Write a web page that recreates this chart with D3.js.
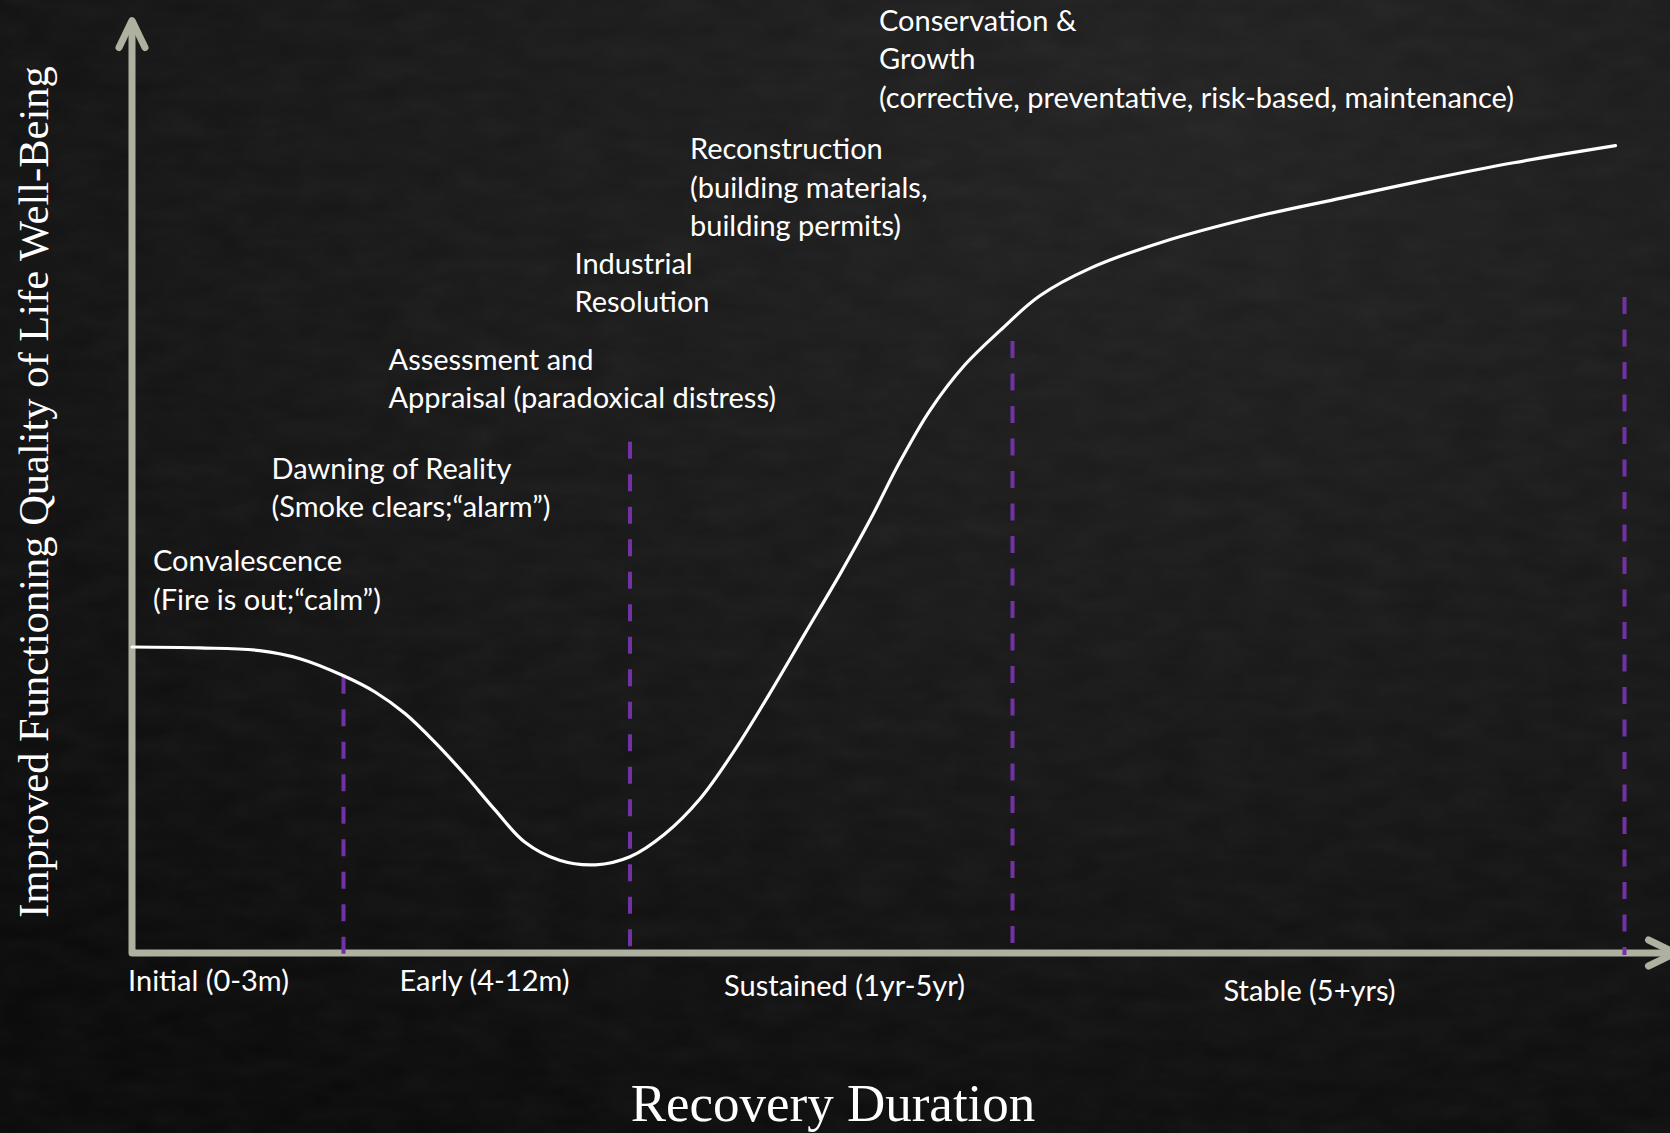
<!DOCTYPE html>
<html>
<head>
<meta charset="utf-8">
<title>Recovery Duration</title>
<script src="https://d3js.org/d3.v7.min.js"></script>
<style>
    html, body { margin: 0; padding: 0; background: #141414; overflow: hidden; }
    svg { display: block; }
    .stage text, .period { font-family: Lato, "Open Sans", sans-serif; font-size: 29px; fill: #ffffff; }
    .serif { font-family: "Liberation Serif", "DejaVu Serif", serif; fill: #ffffff; }
</style>
</head>
<body>
<div class="graph"></div>
<script>
// recovery curve (x: duration, y: well-being, both on a 0-100 scale)
const curveX = [0, 4.5, 8.5, 11.2, 14.1, 16.2, 18.2, 20.2, 22.2, 24.2, 26.2, 28.5, 30.9,
    33.2, 35.5, 37.9, 40.2, 42.5, 44.9, 47.2, 49.2, 51.2, 53.2, 55.5, 57.9, 60.5, 63.9,
    68.5, 74.9, 80.7, 86.3, 92.1, 98.9];
const curveY = [34.0, 33.9, 33.6, 32.7, 30.8, 29.0, 26.6, 23.4, 19.8, 15.9, 12.3, 10.3, 9.8,
    10.7, 13.2, 17.2, 22.6, 28.8, 35.6, 42.1, 48.1, 54.6, 60.3, 65.3, 69.2, 73.0, 76.1,
    78.9, 81.8, 83.9, 85.9, 87.8, 89.7];

// phase boundaries (dashed lines) and the level each one reaches
const boundaryX = [14.1, 33.2, 58.7, 99.5];
const boundaryTop = [30.7, 56.8, 68.0, 72.9];

// recovery periods along the bottom
const periodNames = ['Initial (0-3m)', 'Early (4-12m)', 'Sustained (1yr-5yr)', 'Stable (5+yrs)'];
const periodCentres = [5.1, 23.5, 47.5, 78.5];

// stage annotations, anchored in chart units
const stageLines = [
    ['Convalescence', '(Fire is out;\u201ccalm\u201d)'],
    ['Dawning of Reality', '(Smoke clears;\u201calarm\u201d)'],
    ['Assessment and', 'Appraisal (paradoxical distress)'],
    ['Industrial', 'Resolution'],
    ['Reconstruction', '(building materials,', 'building permits)'],
    ['Conservation &', 'Growth', '(corrective, preventative, risk-based, maintenance)']
];
const stageX = [1.4, 9.3, 17.1, 29.5, 37.2, 49.8];
const stageY = [42.4, 52.7, 64.8, 75.5, 88.2, 102.5];

const yTitle = 'Improved Functioning Quality of Life Well-Being';
const xTitle = 'Recovery Duration';

const width = 1670;
const height = 1133;
const axisColour = '#aeb19f';
const dashColour = '#7231a6';

const x = d3.scaleLinear().domain([0, 100]).range([132, 1632]);
const y = d3.scaleLinear().domain([0, 100]).range([953, 53]);

const svg = d3.select('.graph').append('svg')
    .attr('width', width)
    .attr('height', height);

// background: dark slate with a little grain
const defs = svg.append('defs');
const grad = defs.append('radialGradient')
    .attr('id', 'bg').attr('cx', '72%').attr('cy', '12%').attr('r', '100%');
grad.append('stop').attr('offset', '0%').attr('stop-color', '#222222');
grad.append('stop').attr('offset', '60%').attr('stop-color', '#161616');
grad.append('stop').attr('offset', '100%').attr('stop-color', '#0a0a0a');

const grain = defs.append('filter').attr('id', 'grain')
    .attr('x', 0).attr('y', 0).attr('width', '100%').attr('height', '100%');
grain.append('feTurbulence')
    .attr('type', 'fractalNoise').attr('baseFrequency', '0.02 0.05')
    .attr('numOctaves', 4).attr('seed', 7);
grain.append('feColorMatrix').attr('type', 'saturate').attr('values', 0);

svg.append('rect').attr('width', width).attr('height', height).attr('fill', 'url(#bg)');
svg.append('rect').attr('width', width).attr('height', height)
    .attr('filter', 'url(#grain)').attr('opacity', 0.05);

// axes with open arrow heads
const axisTop = y(103.6);
const axisEnd = x(102.9);
svg.append('path')
    .attr('d', `M${x(0)},${axisTop} L${x(0)},${y(0)} L${axisEnd},${y(0)}`)
    .attr('fill', 'none')
    .attr('stroke', axisColour)
    .attr('stroke-width', 7)
    .attr('stroke-linejoin', 'round');

svg.append('path')
    .attr('d', `M${x(0) - 13},${axisTop + 27} L${x(0)},${axisTop} L${x(0) + 13},${axisTop + 27}`)
    .attr('fill', 'none')
    .attr('stroke', axisColour)
    .attr('stroke-width', 7)
    .attr('stroke-linecap', 'round')
    .attr('stroke-linejoin', 'round');

svg.append('path')
    .attr('d', `M${axisEnd - 27},${y(0) - 13} L${axisEnd},${y(0)} L${axisEnd - 27},${y(0) + 13}`)
    .attr('fill', 'none')
    .attr('stroke', axisColour)
    .attr('stroke-width', 7)
    .attr('stroke-linecap', 'round')
    .attr('stroke-linejoin', 'round');

// dashed phase boundaries
svg.selectAll('line.boundary')
    .data(boundaryX)
    .enter()
    .append('line')
    .attr('class', 'boundary')
    .attr('x1', d => x(d))
    .attr('x2', d => x(d))
    .attr('y1', (d, i) => y(boundaryTop[i]))
    .attr('y2', y(0) + 2)
    .attr('stroke', dashColour)
    .attr('stroke-width', 4)
    .attr('stroke-dasharray', '17 15.5');

// recovery curve
const points = curveX.map((v, i) => [v, curveY[i]]);
const line = d3.line()
    .x(d => x(d[0]))
    .y(d => y(d[1]))
    .curve(d3.curveCatmullRom.alpha(0.5));

svg.append('path')
    .datum(points)
    .attr('d', line)
    .attr('fill', 'none')
    .attr('stroke', '#ffffff')
    .attr('stroke-width', 3.2)
    .attr('stroke-linecap', 'round');

// stage annotations
const stages = svg.append('g').attr('class', 'stage');
stageLines.forEach((lines, i) => {
    const t = stages.append('text')
        .attr('x', x(stageX[i]))
        .attr('y', y(stageY[i]));
    lines.forEach((txt, j) => {
        t.append('tspan')
            .attr('x', x(stageX[i]))
            .attr('dy', j ? 38.5 : 0)
            .text(txt);
    });
});

// period labels under the x axis (they step down slightly to the right)
const periodNudge = [0, 0, 5, 10];
svg.selectAll('text.period')
    .data(periodNames)
    .enter()
    .append('text')
    .attr('class', 'period')
    .attr('x', (d, i) => x(periodCentres[i]))
    .attr('y', (d, i) => y(0) + 38 + periodNudge[i])
    .attr('text-anchor', 'middle')
    .text(d => d);

// axis titles
svg.append('text')
    .attr('class', 'serif')
    .attr('transform', 'translate(48, 492) rotate(-90)')
    .attr('text-anchor', 'middle')
    .attr('font-size', 42.5)
    .text(yTitle);

svg.append('text')
    .attr('class', 'serif')
    .attr('x', 833)
    .attr('y', 1121)
    .attr('text-anchor', 'middle')
    .attr('font-size', 53)
    .text(xTitle);
</script>
</body>
</html>
